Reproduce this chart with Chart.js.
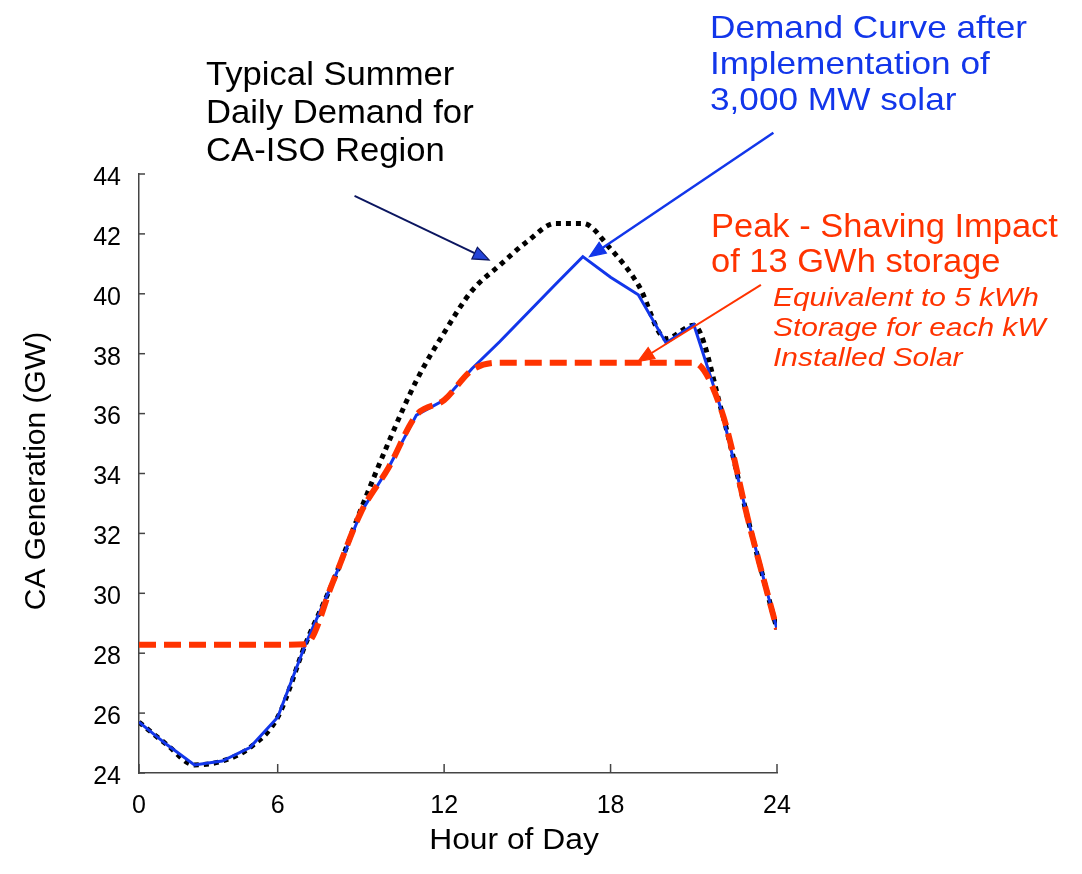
<!DOCTYPE html>
<html>
<head>
<meta charset="utf-8">
<script src="https://cdn.jsdelivr.net/npm/chart.js@4.4.0/dist/chart.umd.min.js"></script>
<style>
  body { margin: 0; background: #fff; }
  #wrap { width: 1082px; height: 874px; }
</style>
</head>
<body>
<div id="wrap"><canvas id="demand-chart" width="1082" height="874"></canvas></div>
<script>
// hours of the day (the first category sits on the axis labelled "0")
const hours = [1, 2, 3, 4, 5, 6, 7, 8, 9, 10, 11, 12, 13, 14, 15, 16, 17, 18, 19, 20, 21, 22, 23, 24];

// GW
const typicalDemand = [25.7, 24.95, 24.27, 24.4, 24.85, 25.86, 28.3, 30.4, 32.8, 35.05, 37.1, 38.7,
                       40.1, 40.95, 41.75, 42.35, 42.35, 41.5, 40.3, 38.5, 38.95, 36.1, 32.3, 28.8];
const afterSolar    = [25.7, 24.95, 24.27, 24.4, 24.85, 25.86, 28.3, 30.4, 32.7, 34.2, 35.95, 36.45,
                       37.5, 38.4, 39.35, 40.3, 41.24, 40.55, 39.97, 38.36, 38.97, 36.1, 32.3, 28.8];
const withStorage   = [28.28, 28.28, 28.28, 28.28, 28.28, 28.28, 28.3, 30.4, 32.7, 34.2, 35.95, 36.45,
                       37.45, 37.7, 37.7, 37.7, 37.7, 37.7, 37.7, 37.7, 37.7, 36.1, 32.3, 28.8];

const xTickValues = [1, 6, 12, 18, 24];
const xTickLabels = ['0', '6', '12', '18', '24'];

const BLUE = '#1236ea';
const RED = '#ff3300';
const FONT = "'Liberation Sans', Arial, sans-serif";

function toPoints(ys) {
    return hours.map((h, i) => ({ x: h, y: ys[i] }));
}

// callout texts and arrows (arrow ends in data units)
const callouts = [
    { lines: ['Typical Summer', 'Daily Demand for', 'CA-ISO Region'], x: 206, y: 85, step: 38, font: '33px', color: '#000', sx: 1.05 },
    { lines: ['Demand Curve after', 'Implementation of', '3,000 MW solar'], x: 710, y: 38, step: 36, font: '32px', color: BLUE, sx: 1.1 },
    { lines: ['Peak - Shaving Impact', 'of 13 GWh storage'], x: 711, y: 237, step: 35, font: '33px', color: RED, sx: 1.045 },
    { lines: ['Equivalent to 5 kWh', 'Storage for each kW', 'Installed Solar'], x: 773, y: 306, step: 30, font: 'italic 26px', color: RED, sx: 1.15 }
];
const arrows = [
    { from: [8.77, 43.27], to: [13.62, 41.13], line: '#0b1660', head: '#2444d8', width: 2 },
    { from: [23.87, 45.38], to: [17.24, 41.24], line: BLUE, head: BLUE, width: 2.5 },
    { from: [23.42, 40.3], to: [18.99, 37.74], line: RED, head: RED, width: 2 }
];

function drawArrow(ctx, x1, y1, x2, y2, a) {
    const ang = Math.atan2(y2 - y1, x2 - x1);
    const len = 16, half = 6.5;
    const bx = x2 - len * Math.cos(ang), by = y2 - len * Math.sin(ang);
    ctx.strokeStyle = a.line;
    ctx.lineWidth = a.width;
    ctx.beginPath();
    ctx.moveTo(x1, y1);
    ctx.lineTo(bx, by);
    ctx.stroke();
    ctx.beginPath();
    ctx.moveTo(x2, y2);
    ctx.lineTo(bx + half * Math.sin(ang), by - half * Math.cos(ang));
    ctx.lineTo(bx - half * Math.sin(ang), by + half * Math.cos(ang));
    ctx.closePath();
    ctx.fillStyle = a.head;
    ctx.fill();
    ctx.lineWidth = 1.2;
    ctx.stroke();
}

function stretchedText(ctx, text, x, y, sx) {
    ctx.save();
    ctx.translate(x, y);
    ctx.scale(sx, 1);
    ctx.fillText(text, 0, 0);
    ctx.restore();
}

const extras = {
    id: 'extras',
    afterDraw(chart) {
        const ctx = chart.ctx;
        const xs = chart.scales.x, ys = chart.scales.y;
        ctx.save();

        // inward tick marks
        ctx.strokeStyle = '#444';
        ctx.lineWidth = 1.5;
        ys.ticks.forEach(t => {
            const py = ys.getPixelForValue(t.value);
            ctx.beginPath();
            ctx.moveTo(xs.left, py);
            ctx.lineTo(xs.left + 6, py);
            ctx.stroke();
        });
        xs.ticks.forEach(t => {
            const px = xs.getPixelForValue(t.value);
            ctx.beginPath();
            ctx.moveTo(px, ys.bottom);
            ctx.lineTo(px, ys.bottom - 9);
            ctx.stroke();
        });

        // axis titles
        ctx.fillStyle = '#000';
        ctx.font = '30px ' + FONT;
        ctx.textAlign = 'center';
        ctx.textBaseline = 'alphabetic';
        stretchedText(ctx, 'Hour of Day', 514, 849, 1.06);
        ctx.save();
        ctx.translate(45, 471);
        ctx.rotate(-Math.PI / 2);
        ctx.fillText('CA Generation (GW)', 0, 0);
        ctx.restore();

        // callout texts
        ctx.textAlign = 'left';
        callouts.forEach(c => {
            ctx.font = c.font + ' ' + FONT;
            ctx.fillStyle = c.color;
            c.lines.forEach((l, i) => stretchedText(ctx, l, c.x, c.y + i * c.step, c.sx));
        });

        // arrows
        arrows.forEach(a => {
            drawArrow(ctx,
                xs.getPixelForValue(a.from[0]), ys.getPixelForValue(a.from[1]),
                xs.getPixelForValue(a.to[0]), ys.getPixelForValue(a.to[1]), a);
        });
        ctx.restore();
    }
};

Chart.defaults.font.family = FONT;
Chart.defaults.color = '#000';

const ctx = document.getElementById('demand-chart').getContext('2d');
new Chart(ctx, {
    type: 'line',
    data: {
        datasets: [
            {
                label: 'Peak shaving with storage',
                data: toPoints(withStorage),
                borderColor: RED,
                borderWidth: 6,
                borderDash: [17, 8],
                cubicInterpolationMode: 'monotone',
                pointRadius: 0,
                order: 1
            },
            {
                label: 'After 3,000 MW solar',
                data: toPoints(afterSolar),
                borderColor: BLUE,
                borderWidth: 3,
                tension: 0,
                pointRadius: 0,
                order: 2
            },
            {
                label: 'Typical summer demand',
                data: toPoints(typicalDemand),
                borderColor: '#000',
                borderWidth: 5,
                borderDash: [5, 5],
                cubicInterpolationMode: 'monotone',
                pointRadius: 0,
                order: 3
            }
        ]
    },
    options: {
        responsive: false,
        animation: false,
        layout: { padding: { top: 174, right: 305, left: 0, bottom: 0 } },
        plugins: { legend: { display: false }, tooltip: { enabled: false } },
        scales: {
            x: {
                type: 'linear',
                min: 1,
                max: 24,
                afterFit: s => { s.height = 101; },
                afterBuildTicks: s => { s.ticks = xTickValues.map(v => ({ value: v })); },
                grid: { drawOnChartArea: false, drawTicks: false },
                border: { color: '#444', width: 1.5 },
                ticks: {
                    padding: 18,
                    font: { size: 25 },
                    maxRotation: 0,
                    callback: (v, i) => xTickLabels[i]
                }
            },
            y: {
                min: 24,
                max: 44,
                afterFit: s => { s.width = 139; },
                grid: { drawOnChartArea: false, drawTicks: false },
                border: { color: '#444', width: 1.5 },
                ticks: { stepSize: 2, padding: 18, labelOffset: 4, font: { size: 25 } }
            }
        }
    },
    plugins: [extras]
});
</script>
</body>
</html>
